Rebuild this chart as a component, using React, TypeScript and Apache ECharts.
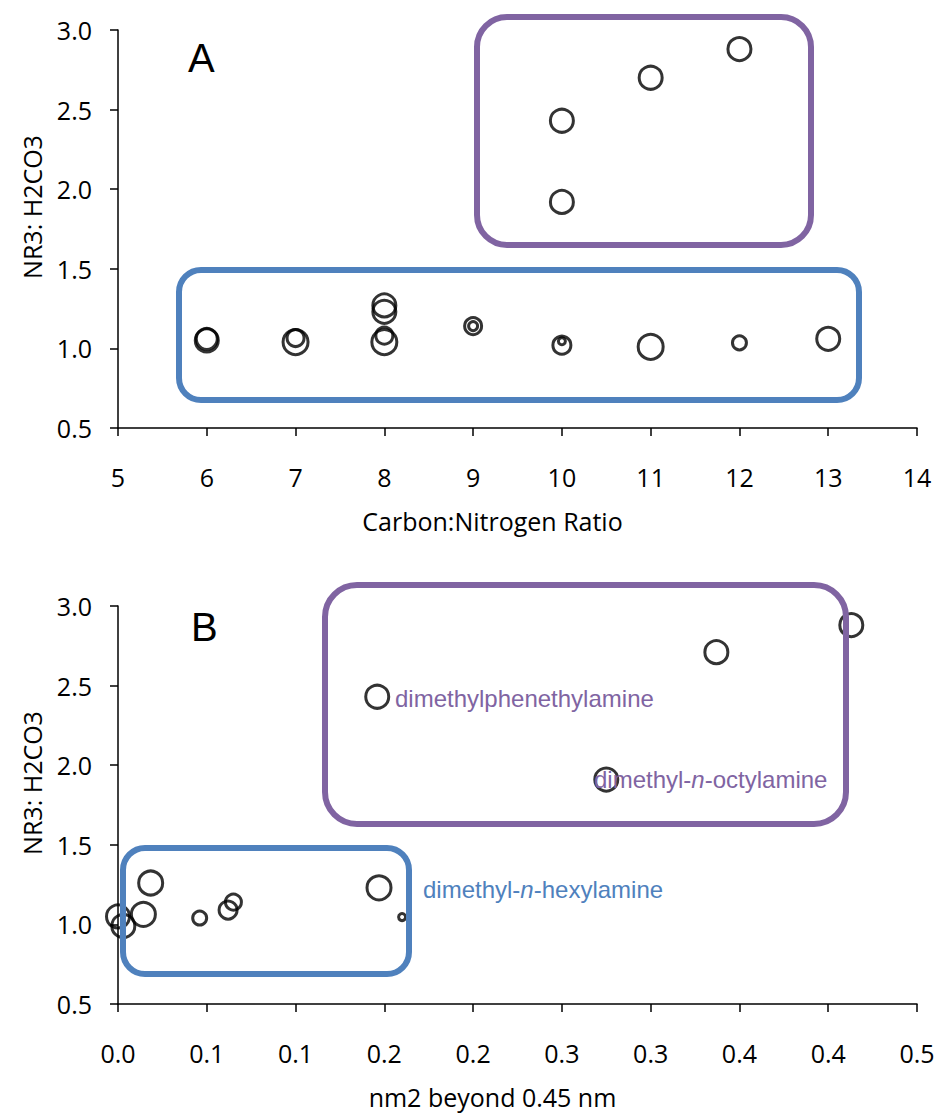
import React, { useEffect, useRef } from "react";
import * as echarts from "echarts";

// ---- Panel A: Carbon:Nitrogen ratio ----
const cnBlue = [6, 6, 7, 7, 8, 8, 8, 8, 9, 9, 10, 10, 11, 12, 13];
const ratioBlueA = [1.05, 1.06, 1.04, 1.065, 1.27, 1.23, 1.04, 1.08, 1.14, 1.14, 1.02, 1.045, 1.01, 1.035, 1.06];
const bubbleBlueA = [23, 21, 25, 17, 23, 23, 25, 17, 17, 9, 18, 7, 25, 14, 23];
const cnPurple = [10, 10, 11, 12];
const ratioPurpleA = [2.43, 1.92, 2.7, 2.88];
const bubblePurpleA = [23, 23, 23, 23];

// ---- Panel B: nm2 beyond 0.45 nm ----
const nm2Blue = [0.0, 0.003, 0.0143, 0.0184, 0.046, 0.062, 0.065, 0.147, 0.16];
const ratioBlueB = [1.05, 0.99, 1.063, 1.26, 1.04, 1.09, 1.14, 1.23, 1.046];
const bubbleBlueB = [23, 23, 24, 24, 14, 18, 16, 24, 7];
const nm2Purple = [0.146, 0.275, 0.337, 0.413];
const ratioPurpleB = [2.43, 1.91, 2.71, 2.88];
const bubblePurpleB = [23, 23, 23, 23];

const xTicksB = ["0.0", "0.1", "0.1", "0.2", "0.2", "0.3", "0.3", "0.4", "0.4", "0.5"];

const PURPLE = "#8064A2";
const BLUE = "#4F81BD";
const FONT = "'Open Sans', sans-serif";
const LFONT = "'Liberation Sans', Arial, sans-serif";

const zip = (xs: number[], ys: number[], ss: number[]) => xs.map((x, i) => [x, ys[i], ss[i]]);

export default function App() {
  const ref = useRef<HTMLDivElement>(null);
  useEffect(() => {
    document.body.style.margin = "0";
    const chart = echarts.init(ref.current!, null, { renderer: "svg" });
    const axisCommon = {
      axisLine: { show: true, lineStyle: { color: "#000", width: 1.5 } },
      axisTick: { show: true, inside: false, length: 8, lineStyle: { color: "#000", width: 1.5 } },
      splitLine: { show: false },
    };
    const yAxis = (gridIndex: number) => ({
      type: "value",
      gridIndex,
      min: 0.5,
      max: 3.0,
      interval: 0.5,
      name: "NR3: H2CO3",
      nameLocation: "middle",
      nameGap: 74,
      nameTextStyle: { fontFamily: FONT, fontSize: 25, color: "#000", padding: [0, 0, 0, 44] },
      axisLabel: { fontFamily: FONT, fontSize: 25, color: "#000", margin: 26, formatter: (v: number) => v.toFixed(1) },
      ...axisCommon,
    });
    const scatter = (xi: number, data: number[][]) => ({
      type: "scatter",
      xAxisIndex: xi,
      yAxisIndex: xi,
      symbol: "circle",
      symbolSize: (v: number[]) => v[2],
      itemStyle: { color: "rgba(0,0,0,0)", borderColor: "#000", borderWidth: 3 },
      emphasis: { disabled: true },
      data,
    });
    const box = (x: number, y: number, w: number, h: number, r: number, color: string) => ({
      type: "rect",
      z: 100,
      shape: { x, y, width: w, height: h, r },
      style: { fill: "none", stroke: color, lineWidth: 6 },
    });
    chart.setOption({
      animation: false,
      grid: [
        { left: 118, top: 30, width: 799, height: 398 },
        { left: 118, top: 606, width: 799, height: 398 },
      ],
      xAxis: [
        {
          type: "value",
          gridIndex: 0,
          min: 5,
          max: 14,
          interval: 1,
          name: "Carbon:Nitrogen Ratio",
          nameLocation: "middle",
          nameGap: 80,
          nameTextStyle: { fontFamily: FONT, fontSize: 25, color: "#000", padding: [0, 50, 0, 0] },
          axisLabel: { fontFamily: FONT, fontSize: 25, color: "#000", margin: 36 },
          ...axisCommon,
        },
        {
          type: "value",
          gridIndex: 1,
          min: 0,
          max: 0.45,
          interval: 0.05,
          name: "nm2 beyond 0.45 nm",
          nameLocation: "middle",
          nameGap: 80,
          nameTextStyle: { fontFamily: FONT, fontSize: 25, color: "#000", padding: [0, 50, 0, 0] },
          axisLabel: {
            fontFamily: FONT,
            fontSize: 25,
            color: "#000",
            margin: 36,
            formatter: (v: number) => xTicksB[Math.round(v / 0.05)] ?? "",
          },
          ...axisCommon,
        },
      ],
      yAxis: [yAxis(0), yAxis(1)],
      series: [
        scatter(0, zip(cnBlue, ratioBlueA, bubbleBlueA)),
        scatter(0, zip(cnPurple, ratioPurpleA, bubblePurpleA)),
        scatter(1, zip(nm2Blue, ratioBlueB, bubbleBlueB)),
        scatter(1, zip(nm2Purple, ratioPurpleB, bubblePurpleB)),
      ],
      graphic: [
        box(477, 17, 334, 228, 30, PURPLE),
        box(179, 270, 680, 130, 22, BLUE),
        box(325, 585, 521, 239, 32, PURPLE),
        box(123, 848, 286, 126, 22, BLUE),
        { type: "text", z: 100, x: 188, y: 38, style: { text: "A", font: `40px ${LFONT}`, fill: "#000" } },
        { type: "text", z: 100, x: 191, y: 607, style: { text: "B", font: `40px ${LFONT}`, fill: "#000" } },
        {
          type: "text",
          z: 100,
          x: 395,
          y: 698,
          style: { text: "dimethylphenethylamine", font: `24px ${LFONT}`, fill: PURPLE, verticalAlign: "middle" },
        },
        {
          type: "text",
          z: 100,
          x: 594,
          y: 779,
          style: {
            text: "{a|dimethyl-}{b|n}{a|-octylamine}",
            verticalAlign: "middle",
            rich: {
              a: { fontFamily: LFONT, fontSize: 24, fill: PURPLE, color: PURPLE },
              b: { fontFamily: LFONT, fontSize: 24, fontStyle: "italic", fill: PURPLE, color: PURPLE },
            },
          },
        },
        {
          type: "text",
          z: 100,
          x: 423,
          y: 889,
          style: {
            text: "{a|dimethyl-}{b|n}{a|-hexylamine}",
            verticalAlign: "middle",
            rich: {
              a: { fontFamily: LFONT, fontSize: 24, fill: BLUE, color: BLUE },
              b: { fontFamily: LFONT, fontSize: 24, fontStyle: "italic", fill: BLUE, color: BLUE },
            },
          },
        },
      ],
    });
    return () => chart.dispose();
  }, []);
  return <div ref={ref} style={{ position: "absolute", left: 0, top: 0, width: 940, height: 1114 }} />;
}
